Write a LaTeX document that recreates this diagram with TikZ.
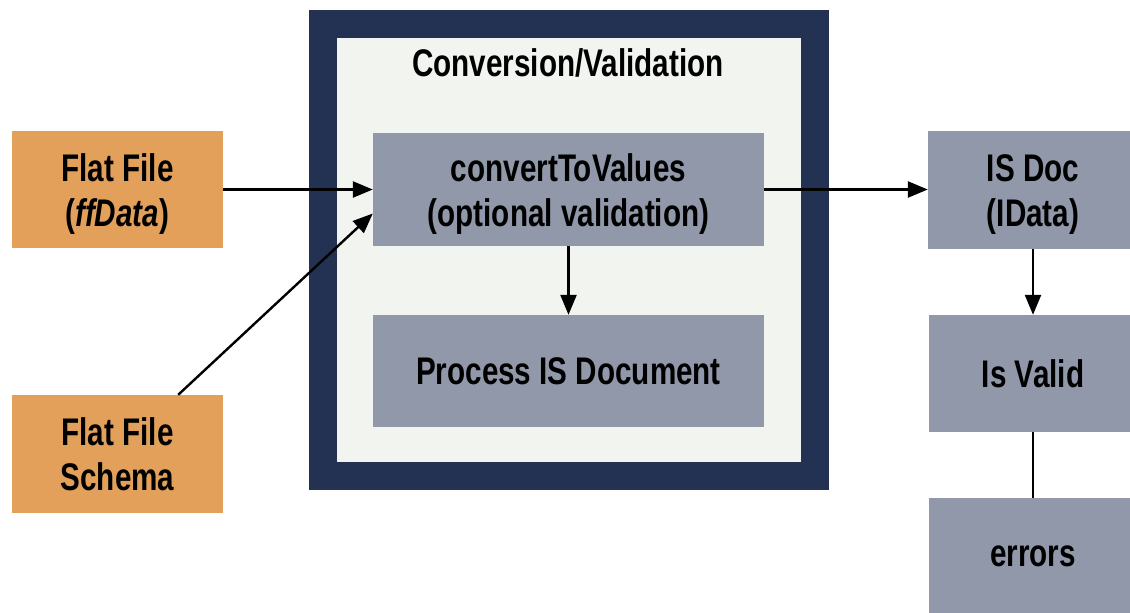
\documentclass[tikz,border=0pt]{standalone}
\usepackage{fontspec}
\newfontfamily\narrowfont{Liberation Sans}[FakeStretch=0.77]
\usetikzlibrary{arrows.meta}
\definecolor{orangebox}{HTML}{E2A05A}
\definecolor{navy}{HTML}{233253}
\definecolor{paleback}{HTML}{F2F4F0}
\definecolor{slatebox}{HTML}{9198AA}
\newcommand{\topstrut}{\rule{0pt}{37pt}}
\begin{document}
\begin{tikzpicture}[x=1pt,y=-1pt,
  lbl/.style={font=\narrowfont\bfseries\fontsize{38.5}{45}\selectfont, align=center, text=black},
  srcbox/.style={lbl, fill=orangebox, inner sep=0pt, minimum width=211pt, minimum height=117pt},
  procbox/.style={lbl, fill=slatebox, inner sep=0pt},
  conn/.style={line width=2.4pt, draw=black},
  arr/.style={conn, -{Triangle[length=20pt,width=16pt]}}
]
\useasboundingbox (0,0) rectangle (1130,613);
\begin{scope}
\clip (0,0) rectangle (1130,613);
% container
\fill[navy] (309,10) rectangle (829,490);
\fill[paleback] (337,38) rectangle (801,462);
\node[lbl] (title) at (568,63) {Conversion/Validation};

\node[srcbox] (ff) at (117.5,189.5) {\topstrut Flat File\\(\textit{ffData})};
\node[srcbox, minimum height=118pt] (schema) at (117.5,454) {Flat File\\Schema};

\node[procbox, minimum width=391pt, minimum height=113pt] (ctv) at (568.5,189.5) {\topstrut convertToValues\\(optional validation)};
\node[procbox, minimum width=391pt, minimum height=112pt] (proc) at (568.5,371) {Process IS Document};

\node[procbox, minimum width=210pt, minimum height=118pt] (isdoc) at (1033,189.5) {\topstrut IS Doc\\(IData)};
\node[procbox, minimum width=208pt, minimum height=117pt] (valid) at (1033,373.5) {Is Valid};
\node[procbox, minimum width=208pt, minimum height=116pt] (errors) at (1033,556) {errors};

\draw[arr] (ff.east) -- (ctv.west);
\draw[arr] ([xshift=-45pt]schema.north east) -- ([yshift=-24pt]ctv.west);
\draw[arr] (ctv.south) -- (proc.north);
\draw[arr] (ctv.east) -- (isdoc.west);
\draw[arr] (isdoc.south) -- (valid.north);
\draw[conn] (valid.south) -- (errors.north);
\end{scope}
\end{tikzpicture}
\end{document}
